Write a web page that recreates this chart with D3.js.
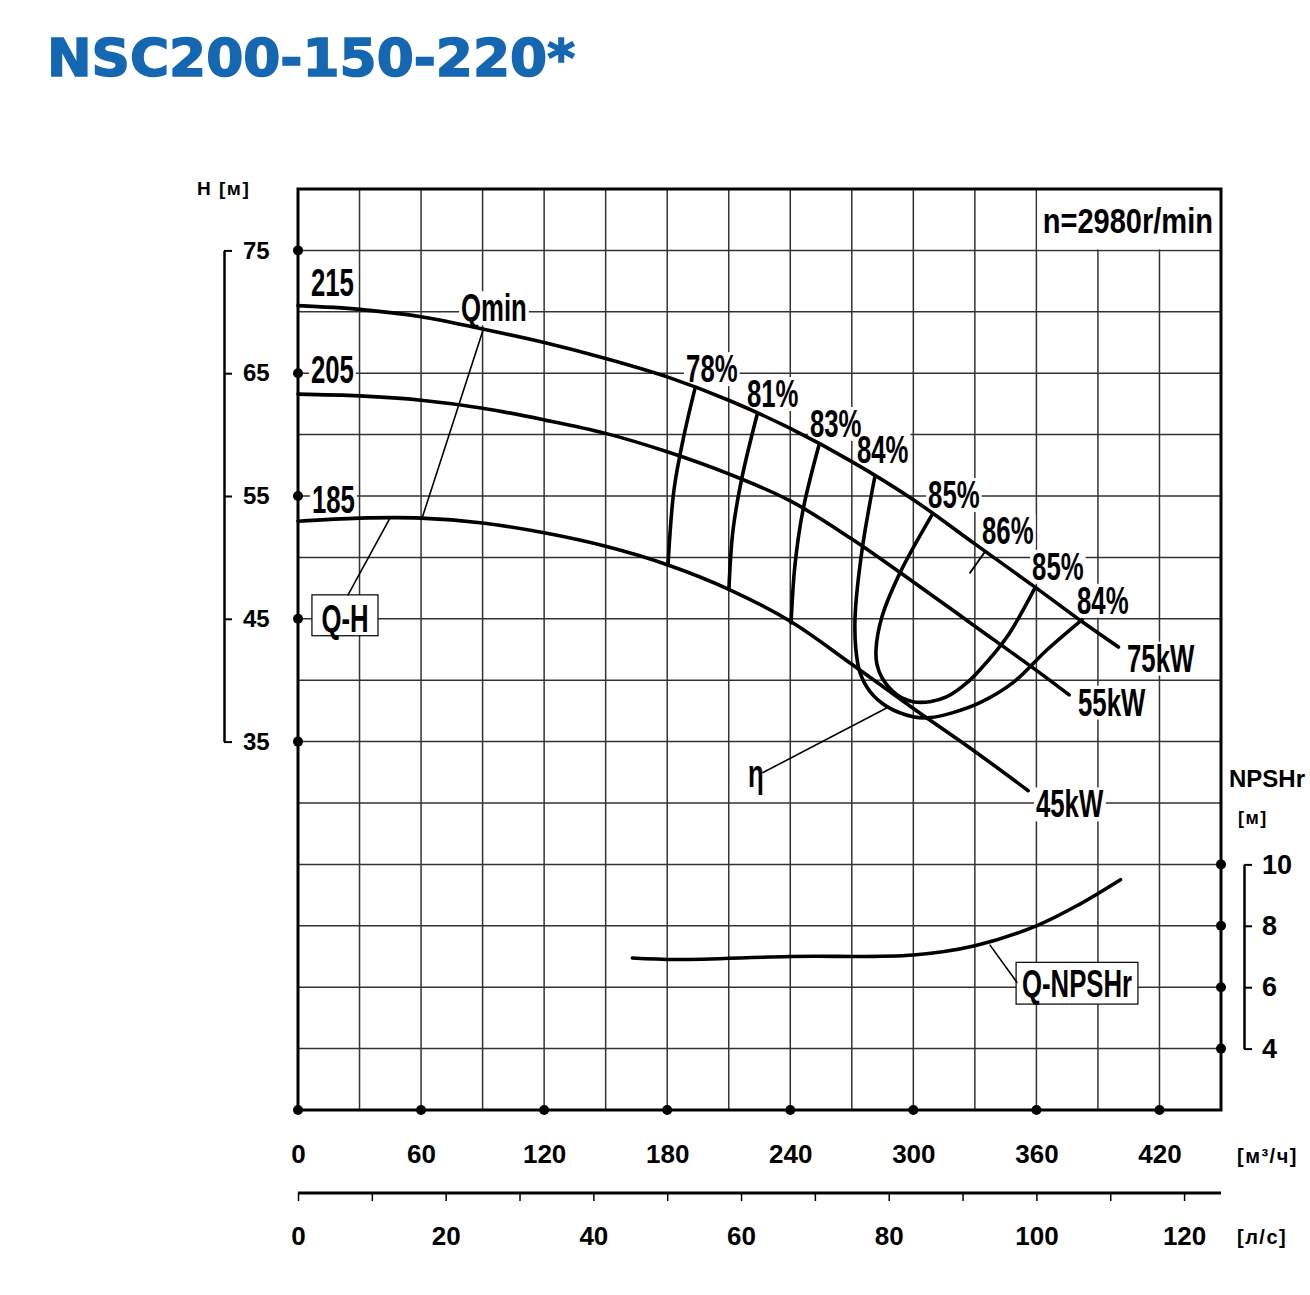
<!DOCTYPE html>
<html><head><meta charset="utf-8">
<script src="https://cdn.jsdelivr.net/npm/d3@7"></script>
<style>body{margin:0;background:#fff}svg{display:block}</style>
</head><body>
<svg id="c" width="1310" height="1295"></svg>
<script>
// ---------------- DATA ----------------
const title = "NSC200-150-220*";
const speedLabel = "n=2980r/min";
const qTicks = [0, 60, 120, 180, 240, 300, 360, 420];      // m3/h
const lsMinorTicks = [0,10,20,30,40,50,60,70,80,90,100,110,120];
const lsTicks = [0, 20, 40, 60, 80, 100, 120];              // l/s
const hTicks = [75, 65, 55, 45, 35];                        // H [m]
const npshTicks = [10, 8, 6, 4];                            // NPSHr [m]

// Q-H curves [Q m3/h, H m]
const curve215 = [[0,70.5],[30,70.2],[60,69.6],[90,68.6],[120,67.5],[150,66.2],[180,64.7],[210,62.8],[240,60.5],[270,57.8],[300,54.7],[330,51.1],[360,47.5],[382,44.8],[400,42.7]];
const curve205 = [[0,63.3],[30,63.15],[60,62.8],[90,62.15],[120,61.2],[150,60.1],[180,58.6],[210,56.8],[240,54.6],[270,51.5],[300,48.0],[330,44.4],[360,40.8],[376,38.8]];
const curve185 = [[0,52.95],[30,53.2],[60,53.2],[90,52.8],[120,52.0],[150,50.9],[180,49.4],[210,47.4],[240,44.8],[270,41.3],[300,37.7],[330,34.2],[356,31.0]];

// Iso-efficiency lines [Q, H]
const eff78 = [[193.6,63.8],[187.7,59.55],[183.3,55.5],[180.4,49.4]];
const eff81 = [[223.8,61.6],[216.5,56.54],[212.1,52.24],[210.1,47.44]];
const eff83 = [[254.0,59.15],[246.2,53.86],[242.3,49.39],[240.4,44.67]];
const eff84 = [[281.3,56.63],[275.0,50.61],[271.6,45.16],[272.0,42.48],[274.0,40.61],[278.9,39.07],[287.2,37.85],[299.8,37.03],[308.1,36.95],[319.3,37.36],[332.5,38.17],[348.6,39.8],[365.2,42.48],[382.2,44.92]];
const eff85 = [[309.1,53.46],[293.5,48.74],[284.7,45.16],[281.8,42.48],[282.3,41.26],[284.7,40.2],[292.0,38.82],[299.8,38.25],[308.1,38.25],[316.4,38.66],[326.2,39.8],[332.5,40.85],[345.7,43.54],[359.3,47.52]];
const eff86Tick = [[327.6,48.74],[334.9,50.45]];

// NPSHr curve [Q, NPSHr m]
const npshCurve = [[163,6.95],[185,6.9],[240,7.0],[300,7.05],[330,7.35],[360,8.0],[381,8.7],[401,9.5]];

// leader lines
const qminLine = [[90.2,68.5],[60.5,53.2]];
const qhLeader = [[44.9,53.21],[24.4,46.95]];
const etaLeader = [[287.2,37.76],[226.7,32.48]];
const npshLeader = [[337.4,7.37],[350.5,6.16]];

// labels (anchor Q, baseline H)
const curveLabels = [{t:"215",q:6.3,h:71.26},{t:"205",q:6.3,h:64.19},{t:"185",q:6.8,h:53.62}];
const effLabels = [{t:"78%",q:189.2,h:64.27},{t:"81%",q:218.9,h:62.24},{t:"83%",q:249.6,h:59.8},{t:"84%",q:272.5,h:57.68},
  {t:"85%",q:307.2,h:54.02},{t:"86%",q:333.5,h:51.1},{t:"85%",q:357.9,h:48.17},{t:"84%",q:379.8,h:45.41}];
const powerLabels = [{t:"75kW",q:404.2,h:40.69},{t:"55kW",q:380.3,h:37.11},{t:"45kW",q:359.8,h:28.82}];
const otherLabels = [{t:"Qmin",q:79.5,h:69.23},{t:"η",q:219.4,h:31.34}];
const qhBox = {t:"Q-H", q0:6.8, q1:39, h0:46.95, h1:43.62, tq:22.9, th:43.94};
const npshBox = {t:"Q-NPSHr", q0:350.1, q1:409.5, n0:6.81, n1:5.45, tq:379.8, tn:5.67};
const speedPos = {q:446.1, h:76.38};

// ---------------- SCALES ----------------
const svg = d3.select("#c");
const x = d3.scaleLinear().domain([0,450]).range([298,1221]);
const y = d3.scaleLinear().domain([5,80]).range([1110,189]);
const yN = d3.scaleLinear().domain([2,32]).range([1110,189]);
const xLs = d3.scaleLinear().domain([0,125]).range([298,1221]);

const FONT = "'Liberation Sans', Arial, Helvetica, sans-serif";

// title
svg.append("text").attr("x",47).attr("y",76).text(title)
  .attr("font-family","'DejaVu Sans', sans-serif").attr("font-weight","bold")
  .attr("font-size",52).attr("fill","#1667b2").attr("stroke","#1667b2").attr("stroke-width",1.6)
  .attr("textLength",528).attr("lengthAdjust","spacingAndGlyphs");

// grid
const gridG = svg.append("g").attr("stroke","#333").attr("stroke-width",1.5);
gridG.selectAll("line.v").data(d3.range(30,450,30)).join("line")
  .attr("x1",d=>x(d)).attr("x2",d=>x(d)).attr("y1",y(80)).attr("y2",y(5));
gridG.selectAll("line.h").data(d3.range(10,80,5)).join("line")
  .attr("x1",x(0)).attr("x2",x(450)).attr("y1",d=>y(d)).attr("y2",d=>y(d));

const bgLayer = svg.append("g");
// speed label knockout
bgLayer.append("rect").attr("x",x(360)+1).attr("y",y(80)).attr("width",x(450)-x(360)-1).attr("height",y(75)-y(80)-1).attr("fill","#fff");

// border
svg.append("rect").attr("x",x(0)).attr("y",y(80)).attr("width",x(450)-x(0)).attr("height",y(5)-y(80))
  .attr("fill","none").attr("stroke","#000").attr("stroke-width",3);

// boxes
svg.append("rect").attr("x",x(qhBox.q0)).attr("y",y(qhBox.h0)).attr("width",x(qhBox.q1)-x(qhBox.q0)).attr("height",y(qhBox.h1)-y(qhBox.h0))
  .attr("fill","#fff").attr("stroke","#000").attr("stroke-width",1.2);
svg.append("rect").attr("x",x(npshBox.q0)).attr("y",yN(npshBox.n0)).attr("width",x(npshBox.q1)-x(npshBox.q0)).attr("height",yN(npshBox.n1)-yN(npshBox.n0))
  .attr("fill","#fff").attr("stroke","#000").attr("stroke-width",1.2);

// curves
const lineH = d3.line().x(d=>x(d[0])).y(d=>y(d[1])).curve(d3.curveCatmullRom.alpha(0.5));
const lineN = d3.line().x(d=>x(d[0])).y(d=>yN(d[1])).curve(d3.curveCatmullRom.alpha(0.5));
const straightH = d3.line().x(d=>x(d[0])).y(d=>y(d[1]));
const straightN = d3.line().x(d=>x(d[0])).y(d=>yN(d[1]));
const curveG = svg.append("g").attr("fill","none").attr("stroke","#000").attr("stroke-linecap","round").attr("stroke-linejoin","round");
[curve215, curve205, curve185].forEach(c=>curveG.append("path").attr("d",lineH(c)).attr("stroke-width",3.6));
[eff78, eff81, eff83, eff84, eff85].forEach(c=>curveG.append("path").attr("d",lineH(c)).attr("stroke-width",3.6));
curveG.append("path").attr("d",straightH(eff86Tick)).attr("stroke-width",1.8);
curveG.append("path").attr("d",lineN(npshCurve)).attr("stroke-width",3.6);
[qminLine, qhLeader, etaLeader].forEach(c=>curveG.append("path").attr("d",straightH(c)).attr("stroke-width",1.6));
curveG.append("path").attr("d",straightN(npshLeader)).attr("stroke-width",1.6);

// text helper
const textG = svg.append("g");
function addText(px, py, txt, o) {
  const sx = o.sx || 1;
  const g = textG.append("g").attr("transform",`translate(${px},${py}) scale(${sx},1)`);
  const t = g.append("text").text(txt).attr("text-anchor",o.anchor||"start")
    .attr("font-family",o.font||FONT).attr("font-weight",o.weight||"bold")
    .attr("font-size",o.size).attr("fill","#000");
  if (o.ls) t.attr("letter-spacing",o.ls);
  if (o.bg) {
    const b = t.node().getBBox();
    bgLayer.append("rect").attr("x",px + b.x*sx - 2).attr("y",py - o.size*0.77)
      .attr("width",b.width*sx + 4).attr("height",o.size*0.87).attr("fill","#fff");
  }
  return t;
}
const big = {size:39, sx:0.66, bg:true};
curveLabels.concat(effLabels, powerLabels, otherLabels).forEach(l=>addText(x(l.q), y(l.h), l.t, big));
addText(x(qhBox.tq), y(qhBox.th), qhBox.t, {size:39, sx:0.66, anchor:"middle"});
addText(x(npshBox.tq), yN(npshBox.tn), npshBox.t, {size:39, sx:0.66, anchor:"middle"});
addText(x(speedPos.q), y(speedPos.h), speedLabel, {size:35, sx:0.83, anchor:"end"});

// dots on axes
const dotG = svg.append("g").attr("fill","#000");
dotG.selectAll("circle.h").data(hTicks).join("circle").attr("cx",x(0)).attr("cy",d=>y(d)).attr("r",5);
dotG.selectAll("circle.q").data(qTicks).join("circle").attr("cx",d=>x(d)).attr("cy",y(5)).attr("r",5);
dotG.selectAll("circle.n").data(npshTicks).join("circle").attr("cx",x(450)).attr("cy",d=>yN(d)).attr("r",5);

function styleAxis(g, size, strokeW) {
  g.selectAll("path.domain").attr("stroke","#000").attr("stroke-width",strokeW||2.5);
  g.selectAll(".tick line").attr("stroke","#000").attr("stroke-width",2);
  g.selectAll("text").attr("font-family",FONT).attr("font-weight","bold").attr("font-size",size).attr("fill","#000");
}
const fmt = d3.format("d");

// left H bracket axis
const yBr = d3.scaleLinear().domain([35,75]).range([y(35),y(75)]);
const gH = svg.append("g").attr("transform","translate(224,0)")
  .call(d3.axisRight(yBr).tickValues(hTicks).tickFormat(fmt).tickSize(8).tickSizeOuter(0).tickPadding(11));
styleAxis(gH, 24, 2.5);
svg.append("text").attr("x",197).attr("y",195).text("H [м]").attr("font-family",FONT).attr("font-weight","bold").attr("font-size",19).attr("letter-spacing",1.5);

// right NPSH bracket axis
const yNBr = d3.scaleLinear().domain([4,10]).range([yN(4),yN(10)]);
const gN = svg.append("g").attr("transform","translate(1244,0)")
  .call(d3.axisRight(yNBr).tickValues(npshTicks).tickFormat(fmt).tickSize(8).tickSizeOuter(0).tickPadding(10));
styleAxis(gN, 27, 2.5);
svg.append("text").attr("x",1229).attr("y",787).text("NPSHr").attr("font-family",FONT).attr("font-weight","bold").attr("font-size",24);
svg.append("text").attr("x",1238).attr("y",824).text("[м]").attr("font-family",FONT).attr("font-weight","bold").attr("font-size",18).attr("letter-spacing",1.5);

// m3/h labels
const gQ = svg.append("g").attr("transform",`translate(0,${y(5)})`)
  .call(d3.axisBottom(x).tickValues(qTicks).tickFormat(fmt).tickSize(0).tickPadding(35));
gQ.select("path.domain").remove();
styleAxis(gQ, 26);
svg.append("text").attr("x",1237).attr("y",1163).text("[м³/ч]").attr("font-family",FONT).attr("font-weight","bold").attr("font-size",20).attr("letter-spacing",1.5);

// l/s axis
const gLs = svg.append("g").attr("transform","translate(0,1193)")
  .call(d3.axisBottom(xLs).tickValues(lsMinorTicks).tickSize(8).tickSizeOuter(0).tickFormat(""));
gLs.select("path.domain").attr("d",`M${x(0)},0H${x(450)}`);
styleAxis(gLs, 26, 3);
gLs.selectAll(".tick line").attr("stroke-width",1.5);
const gLsL = svg.append("g").attr("transform","translate(0,1193)")
  .call(d3.axisBottom(xLs).tickValues(lsTicks).tickFormat(fmt).tickSize(0).tickPadding(34));
gLsL.select("path.domain").remove();
styleAxis(gLsL, 26);
svg.append("text").attr("x",1237).attr("y",1244).text("[л/с]").attr("font-family",FONT).attr("font-weight","bold").attr("font-size",20).attr("letter-spacing",1.5);
</script>
</body></html>
